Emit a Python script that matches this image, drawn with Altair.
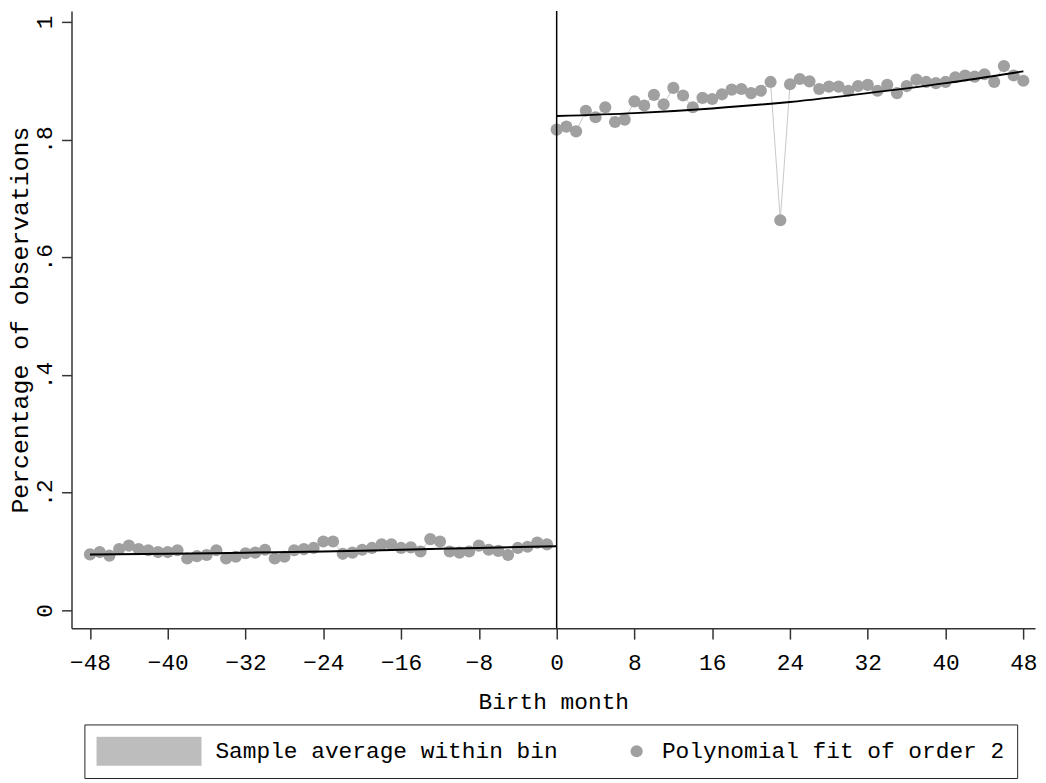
import altair as alt
import pandas as pd

# ---- data ----
left_months = list(range(-48, 0))
left_values = [0.095, 0.099, 0.093, 0.104, 0.110, 0.104, 0.102, 0.099, 0.099, 0.102,
               0.088, 0.092, 0.094, 0.102, 0.088, 0.091, 0.097, 0.098, 0.103, 0.088,
               0.091, 0.102, 0.104, 0.106, 0.117, 0.117, 0.096, 0.098, 0.103, 0.106,
               0.112, 0.112, 0.106, 0.107, 0.100, 0.121, 0.117, 0.100, 0.098, 0.100,
               0.110, 0.103, 0.101, 0.094, 0.106, 0.108, 0.115, 0.112]
right_months = list(range(0, 49))
right_values = [0.817, 0.822, 0.814, 0.849, 0.838, 0.855, 0.830, 0.834, 0.865, 0.858,
                0.876, 0.860, 0.888, 0.875, 0.855, 0.871, 0.869, 0.877, 0.885, 0.886,
                0.879, 0.883, 0.898, 0.663, 0.894, 0.903, 0.899, 0.886, 0.890, 0.890,
                0.883, 0.891, 0.893, 0.883, 0.893, 0.879, 0.891, 0.902, 0.898, 0.896,
                0.898, 0.906, 0.909, 0.907, 0.911, 0.898, 0.925, 0.909, 0.900]
fit_left_months = [-48, -40, -32, -24, -16, -8, 0]
fit_left_values = [0.095, 0.096, 0.098, 0.100, 0.103, 0.106, 0.109]
fit_right_months = [0, 8, 16, 24, 32, 40, 48]
fit_right_values = [0.840, 0.845, 0.853, 0.864, 0.879, 0.896, 0.916]
cutoff = [0]
x_ticks = list(range(-48, 49, 8))
y_ticks = [0, 0.2, 0.4, 0.6, 0.8, 1.0]
legend_labels = ["Sample average within bin", "Polynomial fit of order 2"]

FONT = "Liberation Mono"

points = pd.DataFrame({
    "month": left_months + right_months,
    "value": left_values + right_values,
    "side": ["left"] * len(left_months) + ["right"] * len(right_months),
    "legend": [legend_labels[1]] * (len(left_months) + len(right_months)),
})
fits = pd.DataFrame({
    "month": fit_left_months + fit_right_months,
    "value": fit_left_values + fit_right_values,
    "side": ["left"] * len(fit_left_months) + ["right"] * len(fit_right_months),
})
rule_df = pd.DataFrame({"month": cutoff})

x_enc = alt.X(
    "month:Q",
    scale=alt.Scale(domain=[-49.9, 49.2], nice=False, zero=False),
    axis=alt.Axis(values=x_ticks, title="Birth month", tickSize=11, labelPadding=13,
                  titlePadding=16, labelFlush=False),
)
y_enc = alt.Y(
    "value:Q",
    scale=alt.Scale(domain=[-0.0304, 1.0186], nice=False, zero=False),
    axis=alt.Axis(values=y_ticks, title="Percentage of observations", tickSize=10,
                  labelAngle=270, labelAlign="center", labelBaseline="bottom",
                  labelPadding=5, titlePadding=1, titleFontSize=25, labelFlush=False,
                  labelExpr="datum.value == 0 ? '0' : (datum.value >= 1 ? '1' : '.' + round(datum.value * 10))"),
)

legend_def = alt.Legend(
    title=None, orient="none", legendX=13, legendY=719, direction="horizontal",
    strokeColor="#222", fillColor="white", padding=12, clipHeight=30,
    labelFont=FONT, labelFontSize=23, labelColor="#000", labelOffset=14,
    columnPadding=67, symbolStrokeWidth=0, labelLimit=600,
)

rect_path = "M-1,-0.275H1V0.275H-1Z"

connect = alt.Chart(points).mark_line(color="#c8c8c8", strokeWidth=1).encode(
    x=x_enc, y=y_enc, detail="side:N"
)
dots = alt.Chart(points).mark_point(filled=True, opacity=1).encode(
    x=x_enc, y=y_enc,
    color=alt.Color("legend:N", scale=alt.Scale(domain=legend_labels, range=["#bdbdbd", "#a0a0a0"]), legend=legend_def),
    shape=alt.Shape("legend:N", scale=alt.Scale(domain=legend_labels, range=[rect_path, "circle"]), legend=legend_def),
    size=alt.Size("legend:N", scale=alt.Scale(domain=legend_labels, range=[11236, 150]), legend=legend_def),
)
fit_lines = alt.Chart(fits).mark_line(color="black", strokeWidth=2, interpolate="monotone").encode(
    x=x_enc, y=y_enc, detail="side:N"
)
rule = alt.Chart(rule_df).mark_rule(color="black", strokeWidth=1.5).encode(x=x_enc)

chart = alt.layer(connect, dots, fit_lines, rule).properties(
    width=971, height=622,
    autosize=alt.AutoSizeParams(type="none"),
    padding={"left": 64, "top": 0, "right": 3, "bottom": 153},
).configure_view(stroke=None).configure_axis(
    labelFont=FONT, titleFont=FONT, labelFontSize=23, titleFontSize=23,
    labelColor="#000", titleColor="#000", titleFontWeight="normal",
    domainColor="#333", tickColor="#333", domainWidth=1.5, tickWidth=1.5, grid=False,
)

chart.save("out.html", embed_options={"renderer": "svg", "actions": False})
